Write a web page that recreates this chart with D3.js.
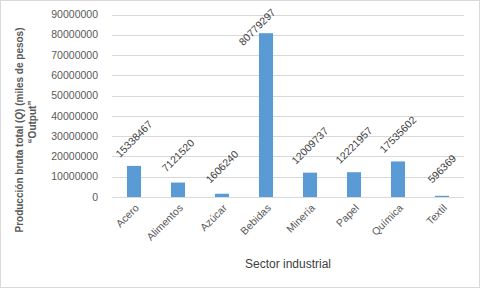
<!DOCTYPE html>
<html>
<head>
<meta charset="utf-8">
<script src="https://cdn.jsdelivr.net/npm/d3@7"></script>
<style>
  body { margin: 0; background: #fff; }
  text { font-family: "Liberation Sans", Arial, sans-serif; }
</style>
</head>
<body>
<div id="chart"></div>
<script>
// Data
const sectors = ["Acero", "Alimentos", "Azúcar", "Bebidas", "Minería", "Papel", "Química", "Textil"];
const output = [15338467, 7121520, 1606240, 80779297, 12009737, 12221957, 17535602, 596369];
const yTicks = [0, 10000000, 20000000, 30000000, 40000000, 50000000, 60000000, 70000000, 80000000, 90000000];

const width = 480, height = 288;
const margin = { left: 112, right: 16, top: 14.5, bottom: 91 };

const svg = d3.select("#chart")
  .append("svg")
  .attr("width", width)
  .attr("height", height);

// chart border
svg.append("rect")
  .attr("x", 0.5).attr("y", 0.5)
  .attr("width", width - 1).attr("height", height - 1)
  .attr("fill", "#fff")
  .attr("stroke", "#d9d9d9");

const x = d3.scaleBand()
  .domain(sectors)
  .range([margin.left, width - margin.right])
  .paddingInner(0.68)
  .paddingOuter(0.34);

const y = d3.scaleLinear()
  .domain([0, 90000000])
  .range([height - margin.bottom, margin.top]);

// gridlines
svg.append("g")
  .selectAll("line")
  .data(yTicks)
  .join("line")
  .attr("x1", margin.left)
  .attr("x2", width - margin.right)
  .attr("y1", d => Math.round(y(d)) + 0.5)
  .attr("y2", d => Math.round(y(d)) + 0.5)
  .attr("stroke", "#d9d9d9")
  .attr("stroke-width", 1);

// y tick labels
svg.append("g")
  .selectAll("text")
  .data(yTicks)
  .join("text")
  .attr("x", 98)
  .attr("y", d => y(d))
  .attr("dy", "0.35em")
  .attr("text-anchor", "end")
  .style("font-size", "10.5px")
  .style("fill", "#595959")
  .text(d => d);

// bars
svg.append("g")
  .selectAll("rect")
  .data(output)
  .join("rect")
  .attr("x", (d, i) => x(sectors[i]))
  .attr("width", x.bandwidth())
  .attr("y", d => y(d))
  .attr("height", d => y(0) - y(d))
  .attr("fill", "#5b9bd5");

// data labels, rotated; kept inside the chart when the bar is tall
function labelPos(d, i) {
  let cx = x(sectors[i]) + x.bandwidth() / 2;
  let cy = y(d) - 27;
  if (cy < 27) {
    cx -= (27 - cy) * 0.43;
    cy = 27;
  }
  return [cx, cy];
}

svg.append("g")
  .selectAll("text")
  .data(output)
  .join("text")
  .attr("transform", (d, i) => {
    const [cx, cy] = labelPos(d, i);
    return `translate(${cx},${cy}) rotate(-45)`;
  })
  .attr("text-anchor", "middle")
  .attr("dy", "0.35em")
  .style("font-size", "10.5px")
  .style("fill", "#404040")
  .text(d => d);

// x category labels
svg.append("g")
  .selectAll("text")
  .data(sectors)
  .join("text")
  .attr("transform", d => `translate(${x(d) + x.bandwidth() / 2 + 3},${y(0) + 9}) rotate(-45)`)
  .attr("text-anchor", "end")
  .attr("dy", "0.35em")
  .style("font-size", "10.5px")
  .style("fill", "#595959")
  .text(d => d);

// x axis title
svg.append("text")
  .attr("x", 288)
  .attr("y", 268)
  .attr("text-anchor", "middle")
  .style("font-size", "12px")
  .style("fill", "#404040")
  .text("Sector industrial");

// y axis title (two lines)
const yTitle = svg.append("text")
  .attr("transform", "translate(23,130) rotate(-90)")
  .attr("text-anchor", "middle")
  .style("font-size", "10px")
  .style("font-weight", "bold")
  .style("fill", "#595959");

const line1 = yTitle.append("tspan").attr("x", 0).attr("y", 0);
line1.append("tspan").text("Producción  bruta total (");
line1.append("tspan").style("font-style", "italic").text("Q");
line1.append("tspan").text(") (miles de pesos)");

yTitle.append("tspan")
  .attr("x", 8)
  .attr("y", 13)
  .text("“Output”");
</script>
</body>
</html>
